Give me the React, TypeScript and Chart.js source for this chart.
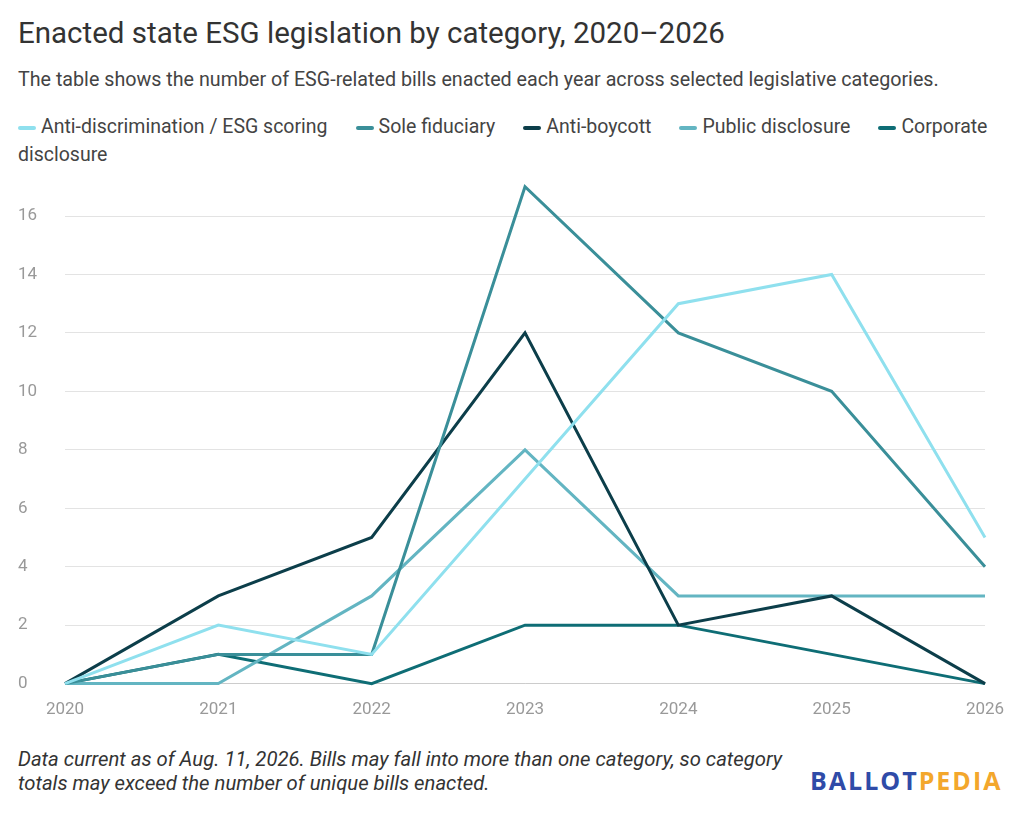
import React, { useEffect, useRef } from "react";
import { Chart, registerables } from "chart.js";
Chart.register(...registerables);

const years = ["2020", "2021", "2022", "2023", "2024", "2025", "2026"];
const antiDiscrimination = [0, 2, 1, 7, 13, 14, 5];
const soleFiduciary = [0, 1, 1, 17, 12, 10, 4];
const antiBoycott = [0, 3, 5, 12, 2, 3, 0];
const publicDisclosure = [0, 0, 3, 8, 3, 3, 3];
const corporateDisclosure = [0, 1, 0, 2, 2, 1, 0];

const series = [
  { label: "Anti-discrimination / ESG scoring", data: antiDiscrimination, color: "#8fe0ee" },
  { label: "Sole fiduciary", data: soleFiduciary, color: "#3a8f99" },
  { label: "Anti-boycott", data: antiBoycott, color: "#0c3e4a" },
  { label: "Public disclosure", data: publicDisclosure, color: "#63b5c2" },
  { label: "Corporate disclosure", data: corporateDisclosure, color: "#0e6d75" },
];

const font = "Roboto, 'Noto Sans', sans-serif";

export default function App() {
  const ref = useRef<HTMLCanvasElement>(null);
  useEffect(() => {
    const chart = new Chart(ref.current!, {
      type: "line",
      data: {
        labels: years,
        datasets: series.map((s) => ({
          label: s.label,
          data: s.data,
          borderColor: s.color,
          backgroundColor: s.color,
          borderWidth: 3,
          pointRadius: 0,
          tension: 0,
          clip: false as any,
        })),
      },
      options: {
        animation: false,
        responsive: false,
        layout: { padding: { left: 18, right: 39, top: 46, bottom: 0 } },
        plugins: { legend: { display: false }, tooltip: { enabled: false } },
        scales: {
          x: {
            grid: { display: false },
            border: { color: "#cccccc" },
            ticks: { color: "#999", font: { family: font, size: 17 }, padding: 8 },
          },
          y: {
            min: 0,
            max: 16,
            afterFit: (a: any) => { a.width = 47; },
            grid: { color: "#e3e3e3", drawTicks: false },
            border: { display: false },
            ticks: {
              stepSize: 2,
              color: "#999",
              font: { family: font, size: 17 },
              crossAlign: "far",
              padding: 0,
            } as any,
          },
        },
      },
    });
    return () => chart.destroy();
  }, []);
  return (
    <div style={{ position: "relative", width: 1024, height: 813, margin: -8, fontFamily: font, background: "#fff", color: "#333" }}>
      <div style={{ position: "absolute", left: 18, top: 16, fontSize: 29.5, color: "#333" }}>
        Enacted state ESG legislation by category, 2020–2026
      </div>
      <div style={{ position: "absolute", left: 18, top: 68, fontSize: 19.7, color: "#444", whiteSpace: "nowrap" }}>
        The table shows the number of ESG-related bills enacted each year across selected legislative categories.
      </div>
      <div style={{ position: "absolute", left: 18, top: 113, width: 1000, fontSize: 19.5, lineHeight: "28px", color: "#444" }}>
        {series.map((s) => (
          <span key={s.label} style={{ marginRight: 28 }}>
            <span style={{ display: "inline-block", width: 18, height: 4, background: s.color, borderRadius: 2, verticalAlign: "middle", marginRight: 5 }} />
            {s.label}
          </span>
        ))}
      </div>
      <div style={{ position: "absolute", left: 0, top: 170, width: 1024, height: 558 }}>
        <canvas ref={ref} width={1024} height={558} />
      </div>
      <div style={{ position: "absolute", left: 18, top: 747, fontSize: 20.3, fontStyle: "italic", lineHeight: "24px", color: "#333", width: 820 }}>
        Data current as of Aug. 11, 2026. Bills may fall into more than one category, so category<br />
        totals may exceed the number of unique bills enacted.
      </div>
      <div style={{ position: "absolute", left: 810, top: 763, fontSize: 25, fontWeight: 700, letterSpacing: 2, fontFamily: "'Open Sans', sans-serif" }}>
        <span style={{ color: "#2f4ba8" }}>BALLOT</span><span style={{ color: "#f3a72c" }}>PEDIA</span>
      </div>
    </div>
  );
}
